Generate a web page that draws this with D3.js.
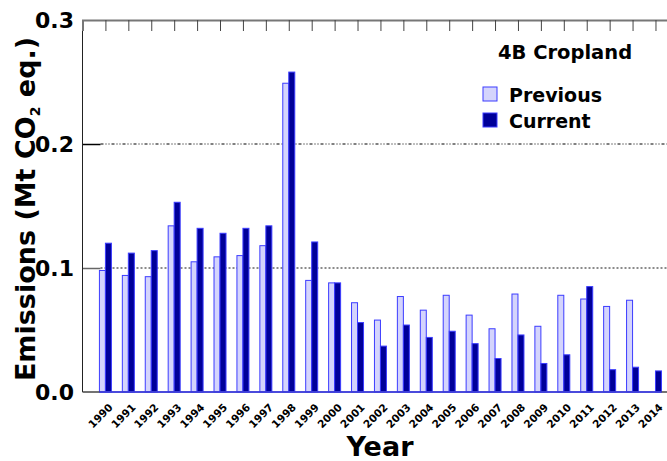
<!DOCTYPE html>
<html lang="en">
<head>
<meta charset="UTF-8">
<title>4B Cropland emissions</title>
<script src="https://d3js.org/d3.v7.min.js"></script>
<style>
    body { margin: 0; background: #fff; }
    svg text { font-family: "DejaVu Sans", sans-serif; font-weight: bold; fill: #000; }
</style>
</head>
<body>
<div id="chart"></div>
<script>
// values (Mt CO2 eq.)
const years = [1990, 1991, 1992, 1993, 1994, 1995, 1996, 1997, 1998, 1999, 2000, 2001,
    2002, 2003, 2004, 2005, 2006, 2007, 2008, 2009, 2010, 2011, 2012, 2013, 2014];
const previous = [0.098, 0.094, 0.093, 0.134, 0.105, 0.109, 0.110, 0.118, 0.249, 0.090,
    0.088, 0.072, 0.058, 0.077, 0.066, 0.078, 0.062, 0.051, 0.079, 0.053, 0.078, 0.075,
    0.069, 0.074, 0];
const current = [0.120, 0.112, 0.114, 0.153, 0.132, 0.128, 0.132, 0.134, 0.258, 0.121,
    0.088, 0.056, 0.037, 0.054, 0.044, 0.049, 0.039, 0.027, 0.046, 0.023, 0.030, 0.085,
    0.018, 0.020, 0.017];
const yTicks = [0, 0.1, 0.2, 0.3];

const W = 667, H = 461;
const plotLeft = 82.5, plotTop = 20, plotBottom = 392;

const svg = d3.select("#chart").append("svg")
    .attr("width", W)
    .attr("height", H);

// chart runs off the right edge in the original, so the range goes past W
const x = d3.scaleLinear().domain([1989, 2015]).range([plotLeft, 678.4]);
const y = d3.scaleLinear().domain([0, 0.3]).range([plotBottom, plotTop]);
const barW = 6;

// gridlines
svg.append("line")
    .attr("x1", plotLeft + 18).attr("x2", W)
    .attr("y1", y(0.2)).attr("y2", y(0.2))
    .attr("stroke", "#000").attr("stroke-width", 1)
    .attr("stroke-dasharray", "3,2,1,2,1,2");
svg.append("line")
    .attr("x1", plotLeft + 18).attr("x2", W)
    .attr("y1", y(0.1)).attr("y2", y(0.1))
    .attr("stroke", "#666").attr("stroke-width", 1.5)
    .attr("stroke-dasharray", "2,2");

// y ticks (inward) + labels
svg.append("g")
    .attr("transform", `translate(${plotLeft},0)`)
    .call(d3.axisRight(y).tickValues([0.1, 0.2]).tickSize(18).tickFormat(""))
    .call(g => g.select(".domain").remove())
    .call(g => g.selectAll("line").attr("stroke", (d, i) => i ? "#000" : "#666").attr("stroke-width", 1.5));

svg.append("g").selectAll("text")
    .data(yTicks)
    .join("text")
    .attr("x", 74)
    .attr("y", d => y(d))
    .attr("dy", "0.36em")
    .attr("text-anchor", "end")
    .style("font-size", "22px")
    .text(d => d.toFixed(1));

// bars
const data = years.map((yr, i) => ({ year: yr, prev: previous[i], cur: current[i] }));

svg.append("g").selectAll("rect")
    .data(data.filter(d => d.prev > 0))
    .join("rect")
    .attr("x", d => x(d.year) - barW)
    .attr("y", d => y(d.prev))
    .attr("width", barW)
    .attr("height", d => plotBottom - y(d.prev))
    .attr("fill", "#d4d4fc")
    .attr("stroke", "#3c3cff")
    .attr("stroke-width", 1);

svg.append("g").selectAll("rect")
    .data(data)
    .join("rect")
    .attr("x", d => x(d.year))
    .attr("y", d => y(d.cur))
    .attr("width", barW)
    .attr("height", d => plotBottom - y(d.cur))
    .attr("fill", "#000099")
    .attr("stroke", "#3c3cff")
    .attr("stroke-width", 1);

// frame: left + top, bottom baseline
svg.append("line")
    .attr("x1", plotLeft).attr("x2", plotLeft).attr("y1", plotTop).attr("y2", plotBottom)
    .attr("stroke", "#222").attr("stroke-width", 1);
svg.append("line")
    .attr("x1", plotLeft).attr("x2", W).attr("y1", plotBottom).attr("y2", plotBottom)
    .attr("stroke", "#444").attr("stroke-width", 1.5);
svg.append("line")
    .attr("x1", x(years[0]) - barW).attr("x2", x(years[years.length - 1]) + barW)
    .attr("y1", plotBottom).attr("y2", plotBottom)
    .attr("stroke", "#3c3cff").attr("stroke-width", 1.5);

// top axis with ticks pointing down
svg.append("g")
    .attr("transform", `translate(0,${plotTop})`)
    .call(d3.axisTop(x).tickValues(years).tickSize(-11).tickFormat(""))
    .call(g => g.select(".domain").attr("stroke", "#777").attr("stroke-width", 2))
    .call(g => g.selectAll(".tick line").attr("stroke", "#444"));

// year labels
svg.append("g").selectAll("text")
    .data(years)
    .join("text")
    .attr("transform", d => `translate(${x(d) + 8},408) rotate(-45)`)
    .attr("text-anchor", "end")
    .style("font-size", "10.5px")
    .text(d => d);

// axis titles
svg.append("text")
    .attr("x", 380).attr("y", 456)
    .attr("text-anchor", "middle")
    .style("font-size", "27px")
    .text("Year");

const yt = svg.append("text")
    .attr("transform", "translate(35,209) rotate(-90)")
    .attr("text-anchor", "middle")
    .style("font-size", "27px");
yt.append("tspan").text("Emissions (Mt CO");
yt.append("tspan").attr("dy", 5).style("font-size", "14px").text("2");
yt.append("tspan").attr("dy", -5).text(" eq.)");

// legend
svg.append("text")
    .attr("x", 565).attr("y", 59)
    .attr("text-anchor", "middle")
    .style("font-size", "19.5px")
    .text("4B Cropland");

const legend = [
    { name: "Previous", fill: "#d4d4fc" },
    { name: "Current", fill: "#000099" }
];
const lg = svg.append("g").selectAll("g")
    .data(legend)
    .join("g")
    .attr("transform", (d, i) => `translate(483,${87 + i * 26})`);
lg.append("rect")
    .attr("width", 14).attr("height", 14)
    .attr("fill", d => d.fill)
    .attr("stroke", "#3c3cff");
lg.append("text")
    .attr("x", 26).attr("y", 14.5)
    .style("font-size", "19px")
    .text(d => d.name);
</script>
</body>
</html>
